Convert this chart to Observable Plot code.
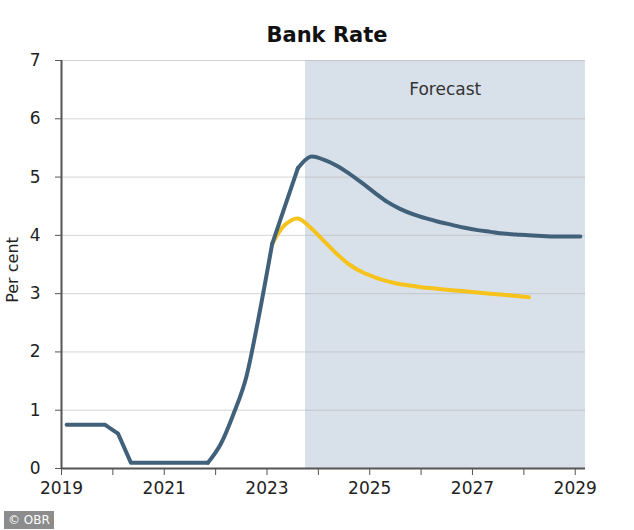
<!DOCTYPE html>
<html><head><meta charset="utf-8">
<script src="https://cdn.jsdelivr.net/npm/d3@7"></script>
<script src="https://cdn.jsdelivr.net/npm/@observablehq/plot@0.6"></script>
<style>
body{margin:0;background:#fff;}
#wrap{position:relative;width:634px;height:530px;overflow:hidden;font-family:"DejaVu Sans",sans-serif;}
#chart{position:absolute;left:0;top:0;}
#title{position:absolute;left:0;width:654px;top:23px;text-align:center;font-weight:bold;font-size:21px;color:#111;}
#ylabel{position:absolute;left:12px;top:270px;transform:translate(-50%,-50%) rotate(-90deg);font-size:16px;color:#222;white-space:nowrap;}
#credit{position:absolute;left:4px;top:511px;background:#8c8c8c;color:#fff;font-size:12px;padding:1px 4px;line-height:16px;}
</style></head>
<body><div id="wrap"><div id="chart"></div><div id="title">Bank Rate</div><div id="ylabel">Per cent</div><div id="credit">© OBR</div></div>
<script>
// Quarterly positions (decimal years) and Bank Rate values (per cent)
const blueTimes = [2019.1,2019.35,2019.6,2019.85,2020.1,2020.35,2020.6,2020.85,2021.1,2021.35,2021.6,2021.85,
  2022.1,2022.35,2022.6,2022.85,2023.1,2023.35,2023.6,2023.85,2024.1,2024.35,2024.6,2024.85,
  2025.1,2025.35,2025.6,2025.85,2026.1,2026.35,2026.6,2026.85,2027.1,2027.35,2027.6,2027.85,
  2028.1,2028.35,2028.6,2028.85,2029.1];
const blueRate = [0.75,0.75,0.75,0.75,0.6,0.1,0.1,0.1,0.1,0.1,0.1,0.1,
  0.42,0.94,1.58,2.65,3.85,4.5,5.15,5.35,5.3,5.2,5.06,4.9,
  4.73,4.57,4.45,4.36,4.29,4.23,4.18,4.13,4.09,4.06,4.03,4.015,
  4.0,3.99,3.98,3.98,3.98];
const yellowTimes = [2023.1,2023.35,2023.6,2023.85,2024.1,2024.35,2024.6,2024.85,2025.1,2025.35,2025.6,2025.85,
  2026.1,2026.35,2026.6,2026.85,2027.1,2027.35,2027.6,2027.85,2028.1];
const yellowRate = [3.85,4.18,4.29,4.13,3.91,3.69,3.5,3.37,3.28,3.21,3.16,3.13,
  3.1,3.08,3.06,3.04,3.02,3.0,2.98,2.96,2.94];
const forecastStart = 2023.75;
const forecastEnd = 2029.2;
const forecastLabel = "Forecast";
const yTicks = [0,1,2,3,4,5,6,7];
const xTicks = [2019,2020,2021,2022,2023,2024,2025,2026,2027,2028,2029];
const xTickLabels = {2019:"2019",2021:"2021",2023:"2023",2025:"2025",2027:"2027",2029:"2029"};

const blue = "#41617a", yellow = "#f6c21c", shade = "#d8e0e9", axisCol = "#555";
const blueData = blueTimes.map((t,i)=>({t, v: blueRate[i]}));
const blueEarly = blueData.filter(d => d.t <= 2021.85);
const blueRise = blueData.filter(d => d.t >= 2021.85 && d.t <= 2023.1);
const blueJump = blueData.filter(d => d.t >= 2023.1 && d.t <= 2023.6);
const blueFcst = blueData.filter(d => d.t >= 2023.6);
const yellowData = yellowTimes.map((t,i)=>({t, v: yellowRate[i]}));
const lineOpts = {x: "t", y: "v", stroke: blue, strokeWidth: 4, strokeLinejoin: "round", strokeLinecap: "round"};

const chart = Plot.plot({
  width: 634, height: 530,
  marginLeft: 61, marginRight: 49, marginTop: 60, marginBottom: 62,
  style: {fontFamily: "DejaVu Sans, sans-serif", fontSize: "16px", color: "#222", background: "transparent"},
  x: {domain: [2019, forecastEnd]},
  y: {domain: [0, 7]},
  marks: [
    Plot.rect([{x1: forecastStart, x2: forecastEnd, y1: 0, y2: 7}], {x1:"x1", x2:"x2", y1:"y1", y2:"y2", fill: shade}),
    Plot.gridY({ticks: yTicks.slice(1), stroke: "#b8b8b8", strokeOpacity: 0.6}),
    Plot.text([forecastLabel], {x: 2026.47, y: 6.5, text: d => d, fontSize: 17, fill: "#333"}),
    Plot.axisY({ticks: yTicks, tickSize: 6, tickPadding: 15, stroke: axisCol, fontSize: 17,
      tickFormat: d => String(d), label: null}),
    Plot.axisX({ticks: xTicks, tickSize: 7, tickPadding: 6, stroke: axisCol, fontSize: 17,
      tickFormat: d => xTickLabels[d] ?? "", label: null}),
    Plot.ruleX([2019], {y1: 0, y2: 7, stroke: axisCol, strokeWidth: 2}),
    Plot.ruleY([0], {stroke: axisCol, strokeWidth: 2}),
    Plot.line(yellowData, {...lineOpts, stroke: yellow, curve: "catmull-rom"}),
    Plot.line(blueEarly, {...lineOpts, curve: "linear"}),
    Plot.line(blueRise, {...lineOpts, curve: "monotone-x"}),
    Plot.line(blueJump, {...lineOpts, curve: "linear"}),
    Plot.line(blueFcst, {...lineOpts, curve: "catmull-rom"})
  ]
});
document.getElementById("chart").appendChild(chart);
</script>
</body></html>
